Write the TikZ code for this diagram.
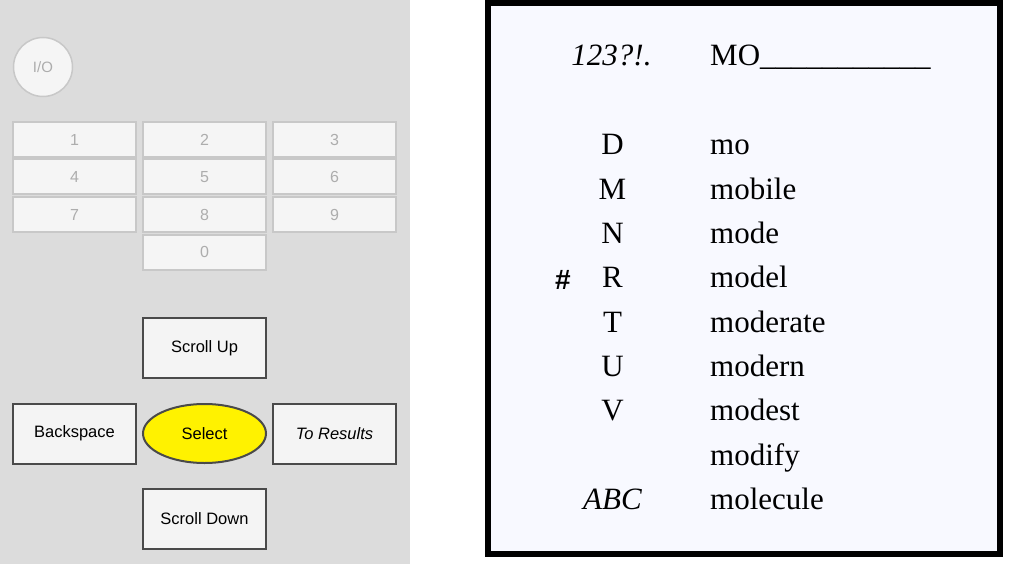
\documentclass[tikz,border=0pt]{standalone}
\usepackage{fontspec}
\setmainfont{Liberation Serif}
\newfontfamily\arialfont{Liberation Sans}
\usetikzlibrary{shapes.geometric}
\definecolor{panelgrey}{HTML}{DCDCDC}
\definecolor{keyfill}{HTML}{F5F5F5}
\definecolor{keyline}{HTML}{C8C8C8}
\definecolor{keytext}{HTML}{ADADAD}
\definecolor{ctrlline}{HTML}{4A4A4A}
\definecolor{ctrlfill}{HTML}{F4F4F4}
\definecolor{selectfill}{HTML}{FFF200}
\definecolor{screenfill}{HTML}{F8F9FF}
\begin{document}
\begin{tikzpicture}[x=1pt,y=-1pt,
    key/.style={rectangle,draw=keyline,line width=2pt,fill=keyfill,
      minimum width=123pt,minimum height=35pt,inner sep=0pt,text=keytext,
      font=\arialfont\fontsize{16}{19}\selectfont},
    ctrl/.style={rectangle,draw=ctrlline,line width=2pt,fill=ctrlfill,
      minimum width=123pt,minimum height=60pt,inner sep=0pt,
      font=\arialfont\fontsize{16.5}{20}\selectfont},
    letter/.style={anchor=base,inner sep=0pt,font=\fontsize{31}{36}\selectfont},
    word/.style={anchor=base west,inner sep=0pt,font=\fontsize{31}{36}\selectfont}]
  \useasboundingbox (0,0) rectangle (1017,564);
  \fill[white] (0,0) rectangle (1017,564);
  \fill[panelgrey] (0,0) rectangle (410,564);

  \node[circle,draw=keyline,line width=1.5pt,fill=keyfill,minimum size=59pt,
        inner sep=0pt,text=keytext,font=\arialfont\fontsize{15}{18}\selectfont] (io) at (43,67) {I/O};

  \foreach \n/\x/\y in {1/74.5/139.5,2/204.5/139.5,3/334.5/139.5,
                        4/74.5/177,5/204.5/177,6/334.5/177,
                        7/74.5/214.5,8/204.5/214.5,9/334.5/214.5,
                        0/204.5/252}
    \node[key] (k\n) at (\x,\y) {\n};

  \node[ctrl] (up) at (204.5,348) {Scroll Up};
  \node[ctrl] (back) at (74.5,433.5) {Backspace};
  \node[ctrl,ellipse,fill=selectfill,minimum width=123pt,minimum height=59pt] (select) at (204.5,433.5) {Select};
  \node[ctrl] (results) at (334.5,433.5) {\itshape To Results};
  \node[ctrl] (down) at (204.5,519) {Scroll Down};

  \draw[line width=6pt,fill=screenfill] (488,3) rectangle (1000,554);
  \node[letter] (marks) at (611.5,66) {\itshape 123?!.};
  \node[word] (entry) at (710,66) {MO\_\_\_\_\_\_\_\_\_\_\_};
  \node[anchor=base,inner sep=0pt,font=\arialfont\bfseries\fontsize{28}{32}\selectfont] (hash) at (563,289) {\#};
  \foreach \l/\w [count=\i] in {D/mo,M/mobile,N/mode,R/model,T/moderate,
                                U/modern,V/modest,{}/modify,{\itshape ABC}/molecule} {
    \node[letter] (l\i) at (612.5,{155+44.3*(\i-1)}) {\l};
    \node[word] (w\i) at (710,{155+44.3*(\i-1)}) {\w};
  }
\end{tikzpicture}
\end{document}
